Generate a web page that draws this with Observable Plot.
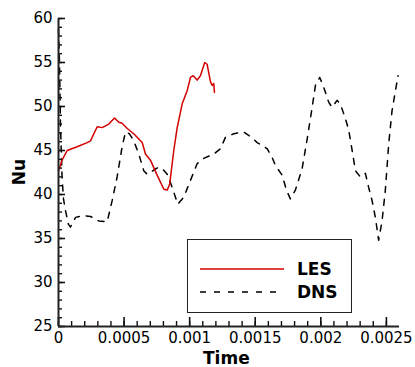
<!DOCTYPE html>
<html>
<head>
<meta charset="utf-8">
<script src="https://cdn.jsdelivr.net/npm/d3@7"></script>
<script src="https://cdn.jsdelivr.net/npm/@observablehq/plot@0.6"></script>
<style>
  html, body { margin: 0; padding: 0; background: #fff; }
  #wrap { position: relative; width: 415px; height: 367px; font-family: "DejaVu Sans", sans-serif; }
  #chart { position: absolute; left: 0; top: 0; }
  .axlabel { position: absolute; font-weight: bold; font-size: 17px; color: #000; white-space: nowrap; }
  #legend { position: absolute; left: 187px; top: 239px; width: 163px; height: 72px; border: 1.5px solid #222; background: #fff; }
  #legend .txt { position: absolute; font-weight: bold; font-size: 17px; left: 109px; line-height: 20px; }
</style>
</head>
<body>
<div id="wrap">
  <div id="chart"></div>
  <div class="axlabel" style="left:203px; top:348px;">Time</div>
  <div class="axlabel" style="left:4px; top:172px; transform: translate(0,-50%) rotate(-90deg); transform-origin: center; width:30px; text-align:center;">Nu</div>
  <div id="legend">
    <svg width="163" height="72" style="position:absolute;left:0;top:0">
      <line x1="12" x2="96" y1="29" y2="29" stroke="#d40000" stroke-width="1.5"></line>
      <line x1="12" x2="96" y1="52" y2="52" stroke="#000" stroke-width="1.5" stroke-dasharray="6,8"></line>
    </svg>
    <div class="txt" style="top:19px;">LES</div>
    <div class="txt" style="top:42px;">DNS</div>
  </div>
</div>
<script>
// LES series
const lesTime = [0.0000, 0.000030, 0.000066, 0.000137, 0.000219, 0.000244, 0.000295, 0.000333, 0.000383, 0.000427, 0.000460, 0.000485, 0.000524, 0.000574, 0.000638, 0.000663, 0.000701, 0.000752, 0.000803, 0.000829, 0.000848, 0.000879, 0.000905, 0.000943, 0.000981, 0.001006, 0.001027, 0.001057, 0.001082, 0.001115, 0.001133, 0.001159, 0.001172, 0.001184, 0.001189];
const lesNu   = [42.7, 44.0, 45.0, 45.4, 45.9, 46.1, 47.7, 47.6, 48.0, 48.7, 48.2, 48.1, 47.5, 46.9, 45.9, 44.6, 43.9, 42.2, 40.6, 40.5, 41.2, 45.0, 47.6, 50.3, 51.8, 53.3, 53.5, 53.0, 53.5, 55.0, 54.8, 52.8, 52.4, 52.6, 51.6];

// DNS series
const dnsTime = [0, 0.0000076, 0.000015, 0.000027, 0.000038, 0.000053, 0.000076, 0.000091, 0.00013, 0.000193, 0.000244, 0.000307, 0.000371, 0.000409, 0.000447, 0.000486, 0.000511, 0.000541, 0.000574, 0.000612, 0.00065, 0.000676, 0.000709, 0.000739, 0.000765, 0.000793, 0.000829, 0.000867, 0.000909, 0.000955, 0.001006, 0.001057, 0.001107, 0.001184, 0.001235, 0.001273, 0.001336, 0.001412, 0.001463, 0.001515, 0.001591, 0.001629, 0.001654, 0.001705, 0.001738, 0.001768, 0.001806, 0.001857, 0.001896, 0.001934, 0.001959, 0.001992, 0.002022, 0.00206, 0.002086, 0.002124, 0.002149, 0.002188, 0.002213, 0.002239, 0.002264, 0.002302, 0.00234, 0.002365, 0.002391, 0.002416, 0.002441, 0.002467, 0.002492, 0.002518, 0.002543, 0.002569, 0.002589];
const dnsNu   = [58.8, 55.0, 48.0, 42.0, 39.5, 38.2, 36.6, 36.3, 37.4, 37.6, 37.5, 37.0, 36.9, 39.3, 42.0, 45.5, 47.1, 46.9, 46.1, 44.6, 42.7, 42.3, 42.6, 42.9, 43.1, 42.9, 42.3, 40.8, 38.9, 39.7, 41.6, 43.5, 44.1, 44.6, 45.2, 46.5, 46.9, 47.1, 46.6, 45.9, 45.2, 44.2, 43.3, 42.2, 40.5, 39.5, 40.5, 42.9, 46.3, 49.9, 52.4, 53.3, 52.2, 50.5, 49.9, 50.7, 50.3, 48.6, 47.3, 45.0, 42.7, 42.0, 42.4, 40.8, 39.3, 37.4, 34.8, 37.0, 40.5, 45.8, 49.5, 51.8, 53.5];

// Tick labels
const xMajor = [0, 0.0005, 0.001, 0.0015, 0.002, 0.0025];
const xMajorLabels = ["0", "0.0005", "0.001", "0.0015", "0.002", "0.0025"];
const yMajor = [25, 30, 35, 40, 45, 50, 55, 60];
const xMinor = d3.range(0, 26).map(i => i / 10000);
const yMinor = d3.range(25, 61);

const les = lesTime.map((t, i) => ({t, nu: lesNu[i]}));
const dns = dnsTime.map((t, i) => ({t, nu: dnsNu[i]}));

const W = 415, H = 367, ML = 58, MR = 16, MT = 18, MB = 41;
const innerW = W - ML - MR, innerH = H - MT - MB;

const chart = Plot.plot({
  width: W,
  height: H,
  marginLeft: ML,
  marginRight: MR,
  marginTop: MT,
  marginBottom: MB,
  style: {fontFamily: "DejaVu Sans", fontSize: "15px", background: "#fff", color: "#000"},
  x: {domain: [0, 0.0026]},
  y: {domain: [25, 60]},
  marks: [
    Plot.line(dns, {x: "t", y: "nu", stroke: "#000", strokeWidth: 1.5, strokeDasharray: "6,7"}),
    Plot.line(les, {x: "t", y: "nu", stroke: "#d40000", strokeWidth: 1.5}),
    // inward minor / major ticks (rules inset to short stubs along the axes)
    Plot.ruleX(xMinor, {x: d => d, insetTop: innerH - 5, stroke: "#111", strokeWidth: 1.4}),
    Plot.ruleX(xMajor, {x: d => d, insetTop: innerH - 9, stroke: "#111", strokeWidth: 1.6}),
    Plot.ruleY(yMinor, {y: d => d, insetRight: innerW - 4, stroke: "#111", strokeWidth: 1.4}),
    Plot.ruleY(yMajor, {y: d => d, insetRight: innerW - 7, stroke: "#111", strokeWidth: 1.6}),
    Plot.axisX({ticks: xMajor, tickSize: 0, tickPadding: 6, label: null, tickFormat: (d, i) => xMajorLabels[i], fill: "#000"}),
    Plot.axisY({ticks: yMajor, tickSize: 0, tickPadding: 6, label: null, fill: "#000"}),
    Plot.ruleX([0], {stroke: "#222", strokeWidth: 2}),
    Plot.ruleY([25], {stroke: "#222", strokeWidth: 2})
  ]
});
document.getElementById("chart").appendChild(chart);
</script>
</body>
</html>
